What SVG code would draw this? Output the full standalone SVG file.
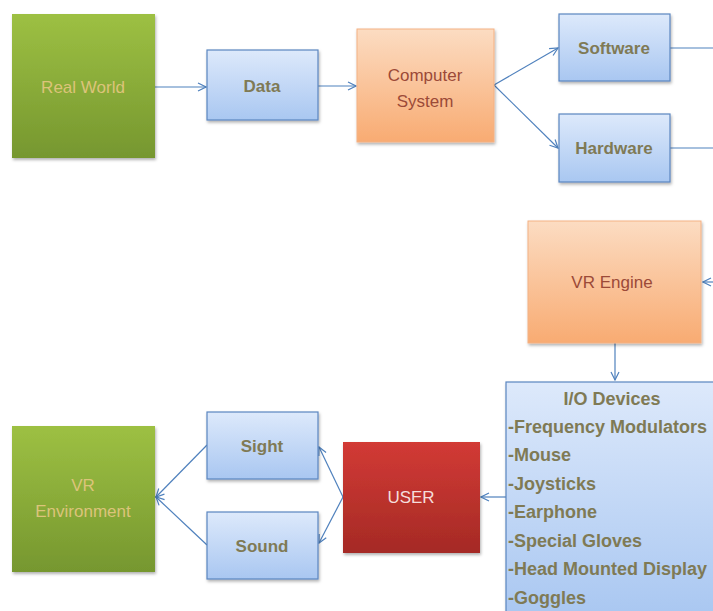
<svg xmlns="http://www.w3.org/2000/svg" width="713" height="611" viewBox="0 0 713 611">
<defs>
<linearGradient id="gGreen" x1="0" y1="0" x2="0" y2="1"><stop offset="0" stop-color="#9dc043"/><stop offset="1" stop-color="#76972f"/></linearGradient>
<linearGradient id="gBlue" x1="0" y1="0" x2="0" y2="1"><stop offset="0" stop-color="#dde9fb"/><stop offset="1" stop-color="#a9c7f1"/></linearGradient>
<linearGradient id="gOrange" x1="0" y1="0" x2="0" y2="1"><stop offset="0" stop-color="#fcdcc2"/><stop offset="1" stop-color="#f8ab72"/></linearGradient>
<linearGradient id="gRed" x1="0" y1="0" x2="0" y2="1"><stop offset="0" stop-color="#d23a35"/><stop offset="1" stop-color="#a52a25"/></linearGradient>
<filter id="sh" x="-10%" y="-10%" width="125%" height="125%"><feDropShadow dx="1" dy="2" stdDeviation="1.5" flood-color="#000" flood-opacity="0.3"/></filter>
<marker id="ah" viewBox="0 0 10 10" refX="9" refY="5" markerWidth="10" markerHeight="10" markerUnits="userSpaceOnUse" orient="auto"><path d="M1,1 L9,5 L1,9" fill="none" stroke="#4f81bd" stroke-width="1.2"/></marker>
</defs>
<style>
.green{fill:url(#gGreen);filter:url(#sh)}
.blue{fill:url(#gBlue);stroke:#5b86c0;stroke-width:1.2;filter:url(#sh)}
.orange{fill:url(#gOrange);stroke:#f4b183;stroke-width:1;filter:url(#sh)}
.red{fill:url(#gRed);filter:url(#sh)}
text{font-family:"Liberation Sans",Arial,sans-serif;text-anchor:middle}
.tg{fill:#dcc47a;font-size:17px}
.tb{fill:#7f7a55;font-size:17px;font-weight:bold}
.to{fill:#9c4a38;font-size:17px}
.tr{fill:#f5dedc;font-size:17px}
.io{fill:#7f7a55;font-size:18px;font-weight:bold;text-anchor:start}
.c{fill:none;stroke:#4f81bd;stroke-width:1.2;marker-end:url(#ah)}
.l{fill:none;stroke:#4f81bd;stroke-width:1.2}
</style>
<rect width="713" height="611" fill="#ffffff"/>
<g id="connectors">
<line class="c" x1="155" y1="87" x2="206" y2="87"/>
<line class="c" x1="318" y1="86" x2="356" y2="86"/>
<line class="c" x1="494" y1="85" x2="558" y2="48"/>
<line class="c" x1="494" y1="85" x2="558" y2="148"/>
<line class="l" x1="670" y1="48" x2="713" y2="48"/>
<line class="l" x1="670" y1="148" x2="713" y2="148"/>
<line class="c" x1="713" y1="282" x2="703" y2="282"/>
<line class="c" x1="615" y1="343" x2="615" y2="380"/>
<line class="c" x1="506" y1="497" x2="481" y2="497"/>
<line class="c" x1="343" y1="497" x2="319" y2="447"/>
<line class="c" x1="343" y1="497" x2="319" y2="543"/>
<line class="c" x1="207" y1="445" x2="156" y2="497"/>
<line class="c" x1="207" y1="545" x2="156" y2="497"/>
</g>
<g id="real-world"><rect class="green" x="12" y="14" width="143" height="144"/><text class="tg" x="83" y="93">Real World</text></g>
<g id="data"><rect class="blue" x="207" y="50" width="111" height="70"/><text class="tb" x="262" y="92">Data</text></g>
<g id="computer-system"><rect class="orange" x="357" y="29" width="137" height="113"/><text class="to" x="425" y="81" font-size="18">Computer</text><text class="to" x="425" y="107" font-size="18">System</text></g>
<g id="software"><rect class="blue" x="559" y="14" width="111" height="67"/><text class="tb" x="614" y="54">Software</text></g>
<g id="hardware"><rect class="blue" x="559" y="114" width="111" height="68"/><text class="tb" x="614" y="154">Hardware</text></g>
<g id="vr-engine"><rect class="orange" x="528" y="221" width="173" height="122"/><text class="to" x="612" y="288">VR Engine</text></g>
<g id="io-devices"><rect class="blue" x="506" y="382" width="212" height="235"/>
<text class="io" x="612" y="405" style="text-anchor:middle">I/O Devices</text>
<text class="io" x="508" y="433">-Frequency Modulators</text>
<text class="io" x="508" y="461">-Mouse</text>
<text class="io" x="508" y="490">-Joysticks</text>
<text class="io" x="508" y="518">-Earphone</text>
<text class="io" x="508" y="547">-Special Gloves</text>
<text class="io" x="508" y="575">-Head Mounted Display</text>
<text class="io" x="508" y="604">-Goggles</text>
</g>
<g id="user"><rect class="red" x="343" y="442" width="137" height="111"/><text class="tr" x="411" y="503">USER</text></g>
<g id="sight"><rect class="blue" x="207" y="412" width="111" height="67"/><text class="tb" x="262" y="452">Sight</text></g>
<g id="sound"><rect class="blue" x="207" y="512" width="111" height="67"/><text class="tb" x="262" y="552">Sound</text></g>
<g id="vr-environment"><rect class="green" x="12" y="426" width="143" height="146"/><text class="tg" x="83" y="491">VR</text><text class="tg" x="83" y="517">Environment</text></g>
</svg>
